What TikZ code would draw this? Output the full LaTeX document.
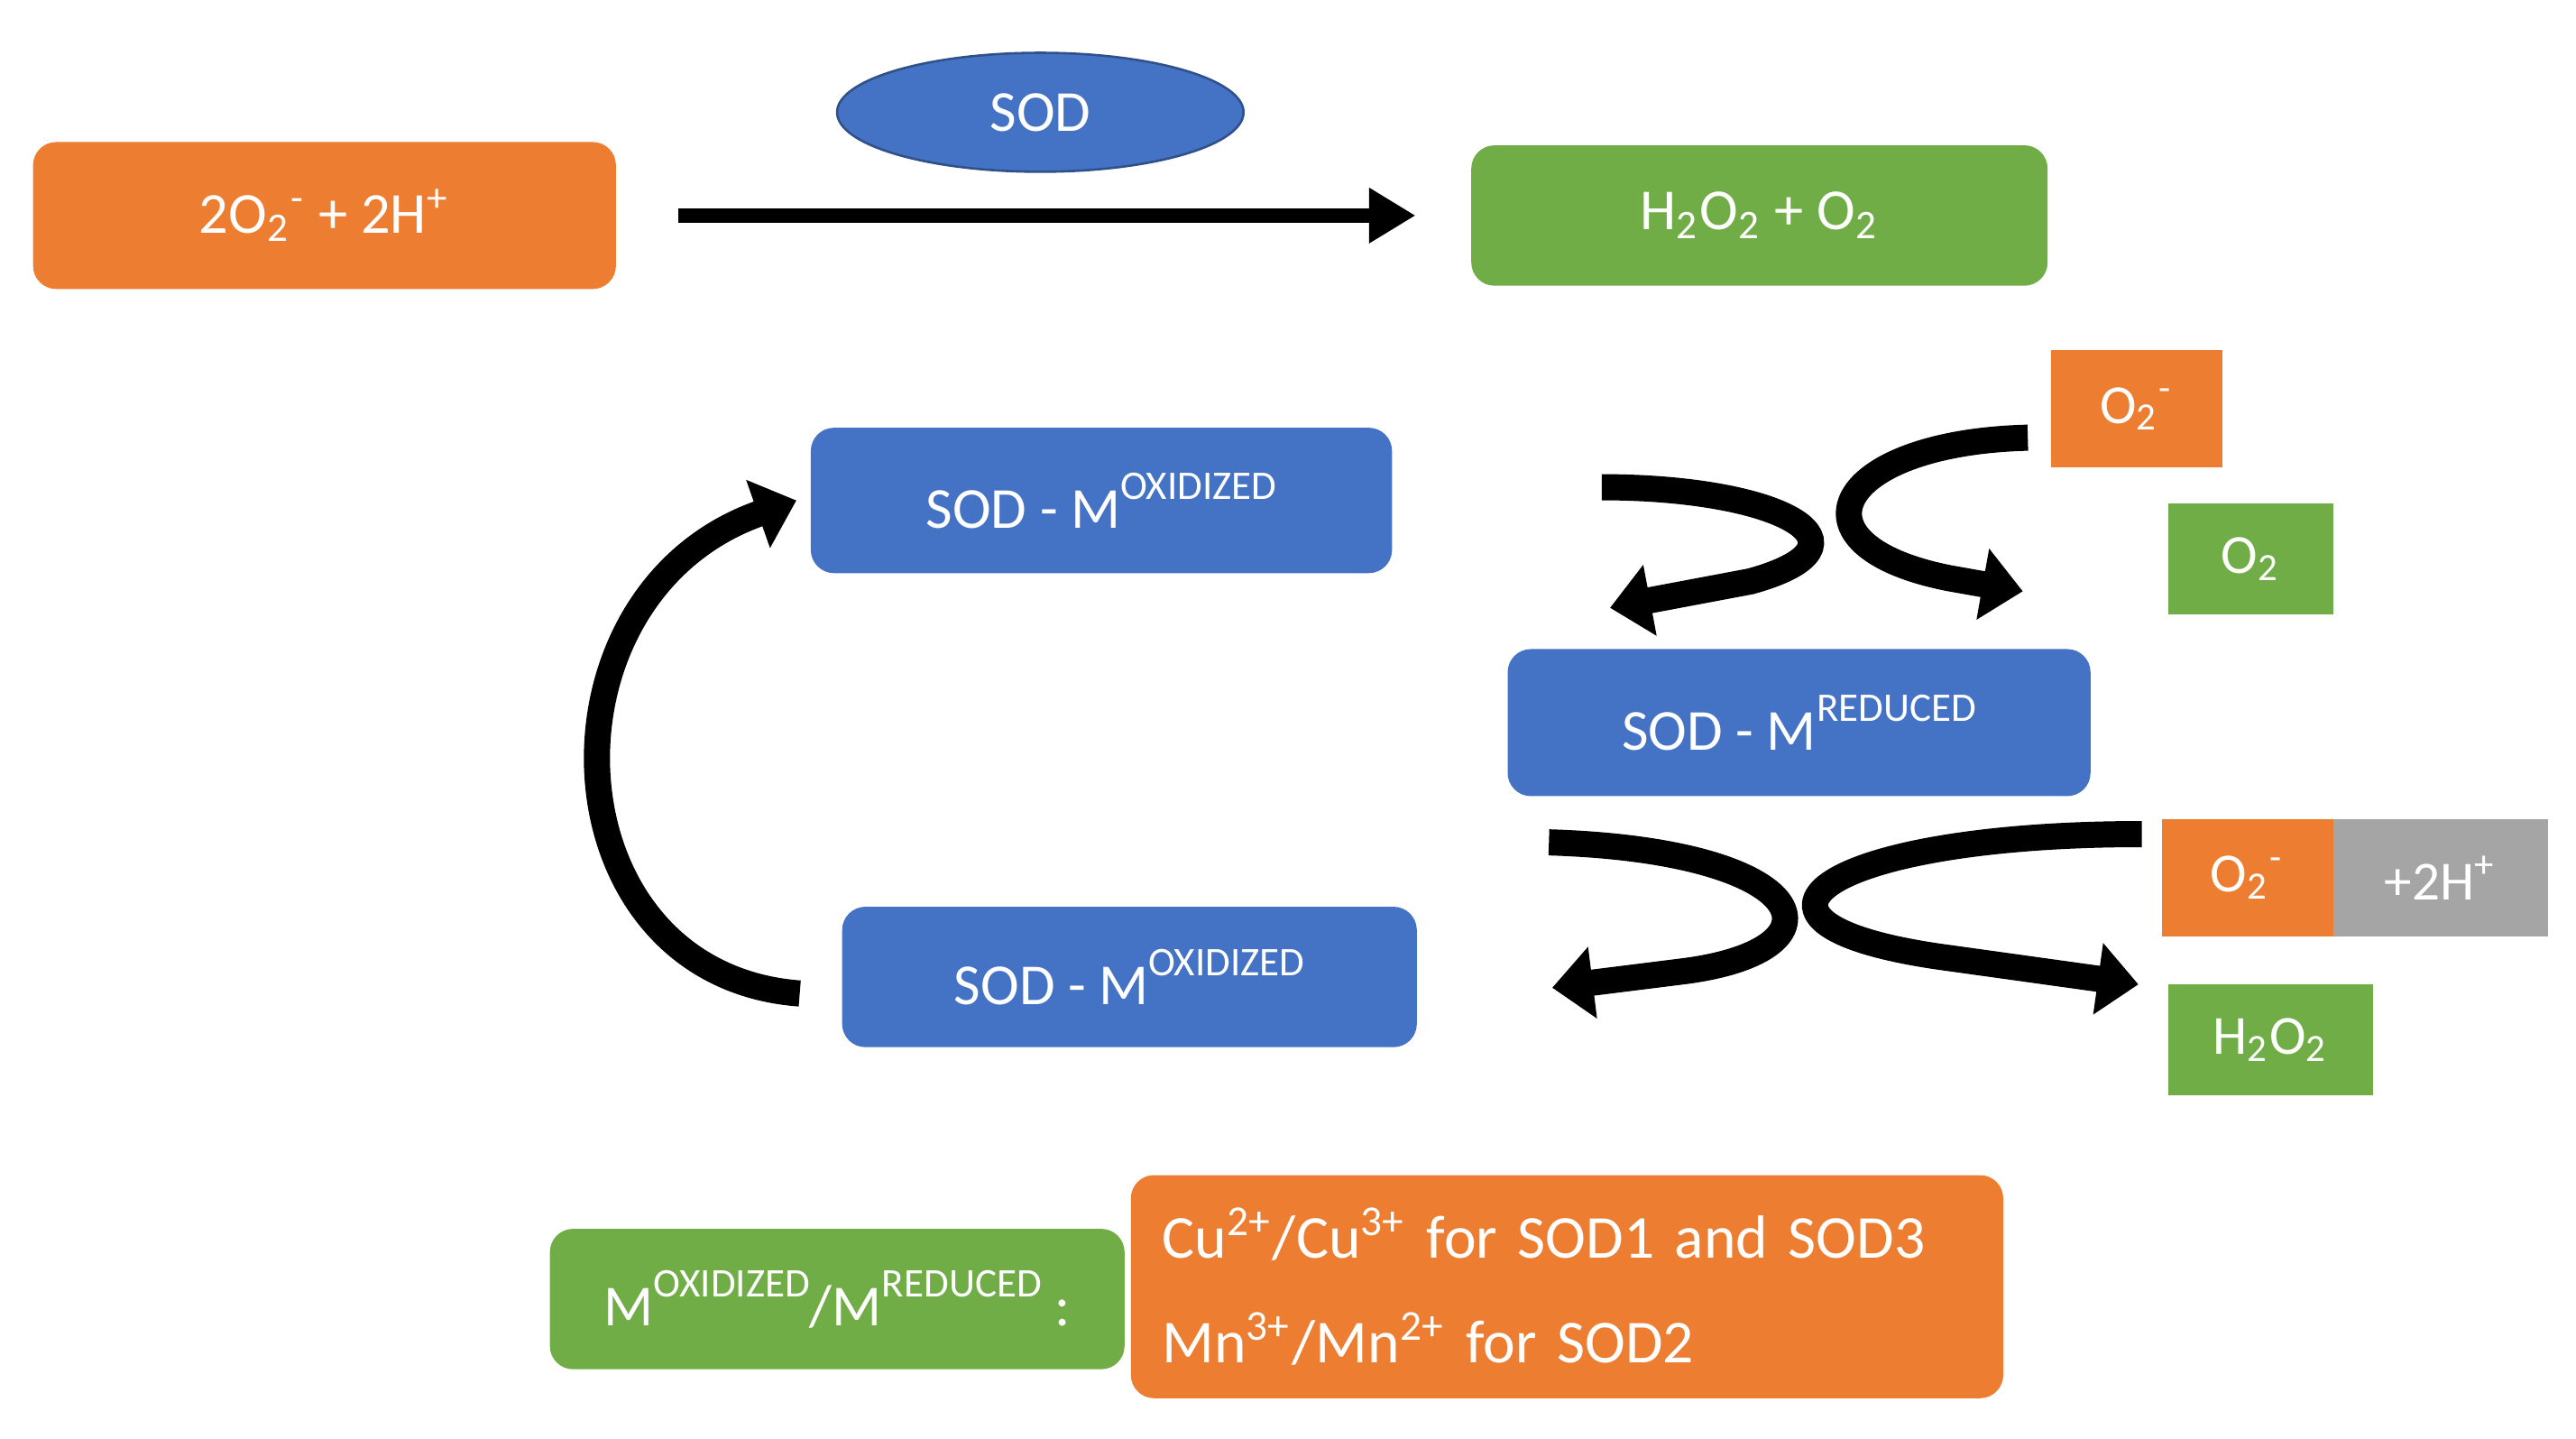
\documentclass[tikz,border=0pt]{standalone}
\usepackage{fontspec}
\setmainfont{Carlito}
\usetikzlibrary{arrows.meta,shapes.geometric}
\definecolor{or}{HTML}{ED7D31}
\definecolor{gr}{HTML}{70AD47}
\definecolor{bl}{HTML}{4472C4}
\definecolor{gy}{HTML}{A5A5A5}
\newcommand{\sub}[1]{\textsubscript{#1}}
\newcommand{\sups}[1]{\textsuperscript{#1}}
\newcommand{\ssup}[1]{\raisebox{0.5em}{\fontsize{7}{8}\selectfont #1}}
\begin{document}
\begin{tikzpicture}[x=0.01cm,y=-0.01cm,
 box/.style={rounded corners=4pt,text=white,inner sep=0pt,font=\fontsize{10}{12}\selectfont},
 sq/.style={text=white,inner sep=0pt,font=\fontsize{9.5}{11}\selectfont},
 bigarr/.style={line width=4.5pt,-{Triangle[length=7pt,width=12pt]}}]
\useasboundingbox (0,0) rectangle (1560,871);
\newcommand{\bx}[6]{\node[#1,fill=#2,minimum width={(#5-#3)*0.01cm},minimum height={(#6-#4)*0.01cm}] at ({(#3+#5)/2},{(#4+#6)/2})}
\bx{box}{or}{20}{86}{373}{175} (a) {2O\sub{2}\sups{-} + 2H\sups{+}};
\node[ellipse,fill=bl,draw=bl!70!black,minimum width=2.46cm,minimum height=0.72cm,text=white,font=\fontsize{10}{12}\selectfont] (sod) at (630,68) {SOD};
\bx{box}{gr}{891}{88}{1240}{173} (b) {H\sub{2}O\sub{2} + O\sub{2}};
\draw[line width=2.5pt,-{Triangle[length=8pt,width=9pt]}] (a.east)++(37,0) coordinate (a1) -- ([xshift=-0.33cm]b.west);
\bx{box}{bl}{491}{259}{843}{347} (ox1) {SOD - M\ssup{OXIDIZED}};
\bx{box}{bl}{913}{393}{1266}{482} (red) {SOD - M\ssup{REDUCED}};
\bx{box}{bl}{510}{549}{858}{634} (ox2) {SOD - M\ssup{OXIDIZED}};
\bx{sq}{or}{1242}{212}{1346}{283} (o1) {O\sub{2}\sups{-}};
\bx{sq}{gr}{1313}{305}{1413}{372} (o2) {O\sub{2}};
\bx{sq}{or}{1309}{496}{1413}{567} (o3) {O\sub{2}\sups{-}};
\bx{sq}{gy}{1413}{496}{1543}{567} (h) {+2H\sups{+}};
\bx{sq}{gr}{1313}{596}{1437}{663} (hp) {H\sub{2}O\sub{2}};
\bx{box}{gr}{333}{744}{681}{829} (l1) {M\ssup{OXIDIZED}/M\ssup{REDUCED} :};
\node[box,fill=or,minimum width=5.28cm,minimum height=1.35cm,align=left,text width=4.9cm,font=\fontsize{10.5}{18}\selectfont] (l2) at (949,779) {Cu\sups{2+}/Cu\sups{3+} for SOD1 and SOD3\\Mn\sups{3+}/Mn\sups{2+} for SOD2};
% cycle arrow
\draw[bigarr] (ox2.west) ++(-25,10) coordinate (c0) .. controls (330,590) and (320,360) .. ([xshift=-0.08cm]ox1.west);
% top crossing
\coordinate (t1) at (970,295); \coordinate (t2) at (1228,265);
\draw[bigarr] (t1) .. controls (1080,295) and (1140,330) .. (1060,352) -- (975,368);
\draw[bigarr] (t2) .. controls (1110,268) and (1080,330) .. (1180,350) -- (1225,358);
% bottom crossing
\coordinate (b1) at (938,510); \coordinate (b2) at (1297,505);
\draw[bigarr] (b1) .. controls (1100,515) and (1120,575) .. (1020,588) -- (940,598);
\draw[bigarr] (b2) .. controls (1100,505) and (1030,560) .. (1180,580) -- (1295,596);
\end{tikzpicture}
\end{document}
